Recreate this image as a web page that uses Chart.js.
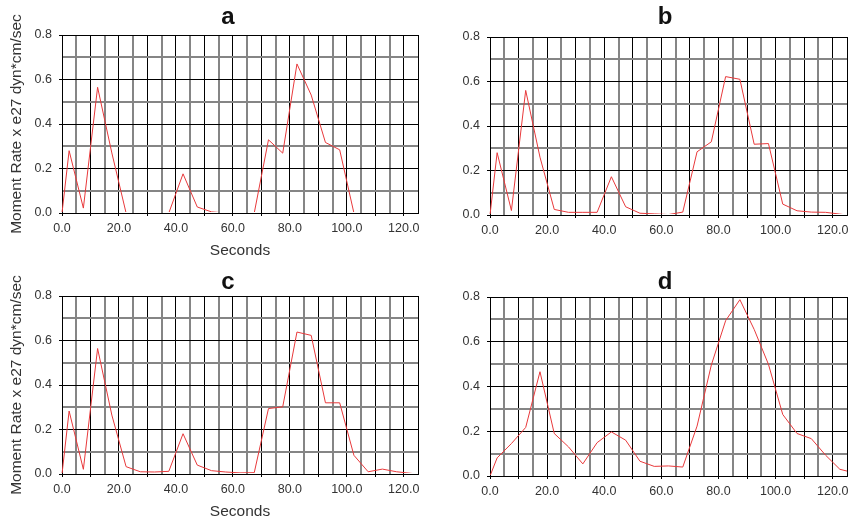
<!DOCTYPE html>
<html>
<head>
<meta charset="utf-8">
<script src="https://cdn.jsdelivr.net/npm/chart.js@4.4.0/dist/chart.umd.min.js"></script>
<style>
    html, body { margin: 0; padding: 0; background: #fff; width: 858px; height: 521px; overflow: hidden; }
    canvas { position: absolute; }
</style>
</head>
<body>
<canvas id="panelA" width="429" height="260" style="left:0px;top:0px"></canvas>
<canvas id="panelB" width="429" height="260" style="left:429px;top:0px"></canvas>
<canvas id="panelC" width="429" height="260" style="left:0px;top:261px"></canvas>
<canvas id="panelD" width="429" height="260" style="left:429px;top:261px"></canvas>
<script>
// time samples (s) shared by all four source time functions
const seconds = [0, 2.5, 7.5, 12.5, 17.5, 22.5, 27.5, 32.5, 37.5, 42.5, 47.5, 52.5, 57.5,
    62.5, 67.5, 72.5, 77.5, 82.5, 87.5, 92.5, 97.5, 102.5, 107.5, 112.5, 117.5, 122.5, 125];

// moment rate, x 1e27 dyn*cm/sec
const rateA = [0, 0.28, 0.022, 0.565, 0.27, 0, 0, 0, 0, 0.176, 0.027, 0.005, 0,
    0, 0, 0.329, 0.269, 0.67, 0.53, 0.317, 0.284, 0, 0, 0, 0, 0, 0];
const rateB = [0, 0.28, 0.02, 0.56, 0.26, 0.025, 0.012, 0.012, 0.012, 0.172, 0.037, 0.008, 0.005,
    0.002, 0.013, 0.284, 0.329, 0.622, 0.61, 0.318, 0.321, 0.049, 0.019, 0.013, 0.012, 0.004, 0];
const rateC = [0, 0.283, 0.021, 0.564, 0.265, 0.033, 0.01, 0.009, 0.012, 0.181, 0.04, 0.015, 0.009,
    0.005, 0.006, 0.294, 0.302, 0.638, 0.623, 0.32, 0.32, 0.084, 0.01, 0.022, 0.01, 0.003, 0];
const rateD = [0, 0.081, 0.145, 0.217, 0.466, 0.19, 0.13, 0.054, 0.149, 0.197, 0.16, 0.066, 0.043,
    0.045, 0.04, 0.223, 0.496, 0.694, 0.788, 0.655, 0.499, 0.275, 0.19, 0.167, 0.093, 0.03, 0.022];

const xLabelEvery = 20;
const yLabelEvery = 0.2;
const yTitle = 'Moment Rate x e27 dyn*cm/sec';
const xTitle = 'Seconds';

const FONT = "'Liberation Sans', Arial, Helvetica, sans-serif";

function isMajorX(v) { return v % 10 === 0 || v === 125; }
function isMajorY(v) { return Math.round(v * 10) % 2 === 0; }

// panel letter, centred a bit left of the plot like the original figure
const panelLetter = {
    id: 'panelLetter',
    afterDraw(chart, args, opts) {
        const ctx = chart.ctx;
        ctx.save();
        ctx.font = 'bold 24px ' + FONT;
        ctx.fillStyle = '#111';
        ctx.textAlign = 'center';
        ctx.textBaseline = 'alphabetic';
        ctx.fillText(opts.text, opts.x, opts.y);
        ctx.restore();
    }
};

function makePanel(id, letter, values, box) {
    const canvas = document.getElementById(id);
    const W = canvas.width, H = canvas.height;

    return new Chart(canvas, {
        type: 'line',
        data: {
            datasets: [{
                data: seconds.map((s, i) => ({ x: s, y: values[i] })),
                borderColor: '#e8393b',
                borderWidth: 1,
                pointRadius: 0,
                tension: 0,
                fill: false,
                clip: { left: 2, right: 2, top: 2, bottom: -1 }
            }]
        },
        plugins: [panelLetter],
        options: {
            responsive: false,
            animation: false,
            devicePixelRatio: 1,
            layout: { padding: { left: 0, right: W - box.right, top: box.top, bottom: 0 } },
            plugins: {
                legend: { display: false },
                tooltip: { enabled: false },
                title: { display: false },
                panelLetter: { text: letter, x: box.letterX, y: box.letterY }
            },
            scales: {
                x: {
                    type: 'linear',
                    min: 0,
                    max: 125,
                    afterFit: (s) => { s.height = H - box.bottom; },
                    border: { color: '#000', width: 1 },
                    grid: {
                        color: (c) => isMajorX(c.tick.value) ? '#000' : '#858585',
                        lineWidth: (c) => isMajorX(c.tick.value) ? 1 : 2,
                        tickColor: (c) => c.tick.value % 10 === 0 ? '#000' : 'rgba(0,0,0,0)',
                        tickLength: 3,
                        tickWidth: 1
                    },
                    ticks: {
                        stepSize: 5,
                        autoSkip: false,
                        maxRotation: 0,
                        padding: 5,
                        color: '#333',
                        font: { family: FONT, size: 12.5 },
                        callback: (v) => v % xLabelEvery === 0 ? v.toFixed(1) : ''
                    },
                    title: {
                        display: box.titles,
                        text: xTitle,
                        color: '#333',
                        font: { family: FONT, size: 15.5 },
                        padding: { top: 0, bottom: 0 }
                    }
                },
                y: {
                    min: 0,
                    max: 0.8,
                    afterFit: (s) => { s.width = box.left; },
                    border: { color: '#000', width: 1 },
                    grid: {
                        color: (c) => isMajorY(c.tick.value) ? '#000' : '#858585',
                        lineWidth: (c) => isMajorY(c.tick.value) ? 1 : 2,
                        tickColor: (c) => isMajorY(c.tick.value) ? '#000' : 'rgba(0,0,0,0)',
                        tickLength: 3,
                        tickWidth: 1
                    },
                    ticks: {
                        stepSize: 0.1,
                        autoSkip: false,
                        padding: 7,
                        color: '#333',
                        font: { family: FONT, size: 12.5 },
                        callback: (v) => Math.round(v * 10) % Math.round(yLabelEvery * 10) === 0 ? v.toFixed(1) : ''
                    },
                    title: {
                        display: box.titles,
                        text: yTitle,
                        color: '#333',
                        font: { family: FONT, size: 15.5 },
                        padding: { top: 7, bottom: 0 }
                    }
                }
            }
        }
    });
}

makePanel('panelA', 'a', rateA, { left: 62, right: 418, top: 35, bottom: 213, letterX: 228, letterY: 24, titles: true });
makePanel('panelB', 'b', rateB, { left: 61, right: 418, top: 37, bottom: 215, letterX: 236, letterY: 24, titles: false });
makePanel('panelC', 'c', rateC, { left: 62, right: 418, top: 35, bottom: 213, letterX: 228, letterY: 28, titles: true });
makePanel('panelD', 'd', rateD, { left: 61, right: 418, top: 36, bottom: 215, letterX: 236, letterY: 28, titles: false });
</script>
</body>
</html>
